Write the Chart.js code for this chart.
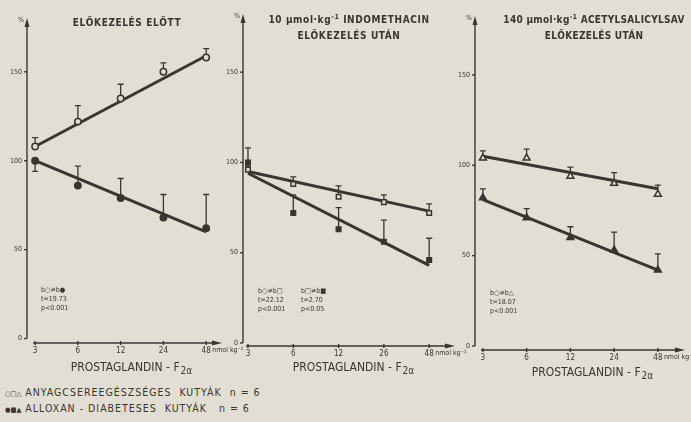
<!DOCTYPE html>
<html>
<head>
<meta charset="utf-8">
<script src="https://cdn.jsdelivr.net/npm/chart.js@4.4.0/dist/chart.umd.min.js"></script>
<style>
  body { margin: 0; background: #e2ded3; width: 691px; height: 422px; overflow: hidden; position: relative;
         font-family: 'DejaVu Sans Condensed', 'Liberation Sans Narrow', 'DejaVu Sans', sans-serif; color: #3a3531; }
  canvas { position: absolute; top: 0; }
  .title { position: absolute; font-weight: bold; font-size: 10px; text-align: center; letter-spacing: 0.6px; line-height: 16px; white-space: nowrap; }
  .title sup { font-size: 7px; vertical-align: 4px; line-height: 0; }
  .note { position: absolute; font-size: 7px; line-height: 9px; white-space: nowrap; }
  .legend { position: absolute; left: 5px; font-size: 10.5px; letter-spacing: 1px; white-space: nowrap; }
  .legend .sym { font-size: 7px; letter-spacing: 0; }
</style>
</head>
<body>
<canvas id="panel1" width="245" height="385" style="left:0px"></canvas>
<canvas id="panel2" width="255" height="385" style="left:215px"></canvas>
<canvas id="panel3" width="244" height="385" style="left:447px"></canvas>

<div class="title" style="left:57px; top:15px; width:140px">ELŐKEZELÉS ELŐTT</div>
<div class="title" style="left:264px; top:12px; width:170px">10 µmol·kg<sup>-1</sup> INDOMETHACIN<br>ELŐKEZELÉS UTÁN</div>
<div class="title" style="left:499px; top:12px; width:190px; letter-spacing:0.3px">140 µmol·kg<sup>-1</sup> ACETYLSALICYLSAV<br>ELŐKEZELÉS UTÁN</div>

<div class="note" style="left:41px; top:286px">b○≠b●<br>t=19.73<br>p&lt;0.001</div>
<div class="note" style="left:258px; top:287px">b○≠b□<br>t=22.12<br>p&lt;0.001</div>
<div class="note" style="left:301px; top:287px">b□≠b■<br>t=2.70<br>p&lt;0.05</div>
<div class="note" style="left:490px; top:289px">b○≠b△<br>t=18.07<br>p&lt;0.001</div>

<div class="legend" style="top:386px"><span class="sym">○□△</span> ANYAGCSEREEGÉSZSÉGES &nbsp;KUTYÁK &nbsp;n = 6</div>
<div class="legend" style="top:402px"><span class="sym">●■▲</span> ALLOXAN - DIABETESES &nbsp;KUTYÁK &nbsp; n = 6</div>

<script>
const INK = '#3a3531';
const BG = '#e2ded3';
const FONT = "'DejaVu Sans Condensed', 'Liberation Sans Narrow', 'DejaVu Sans', sans-serif";

// dose labels (nmol/kg, log spaced)
const doses1 = ['3', '6', '12', '24', '48'];
const doses2 = ['3', '6', '12', '26', '48'];
const doses3 = ['3', '6', '12', '24', '48'];
const yTicks = [0, 50, 100, 150];

// panel 1: before pretreatment
const normal1 = [108, 122, 135, 150, 158];
const normal1Sd = [5, 9, 8, 5, 5];
const diab1 = [100, 86, 79, 68, 62];
const diab1Sd = [-6, 11, 11, 13, 19];
const normal1Fit = [108, 159];
const diab1Fit = [100, 60];

// panel 2: after indomethacin
const normal2 = [96, 88, 81, 78, 72];
const normal2Sd = [2, 4, 6, 4, 5];
const diab2 = [100, 72, 63, 56, 46];
const diab2Sd = [8, 10, 12, 12, 12];
const normal2Fit = [95, 73];
const diab2Fit = [94, 43];

// panel 3: after acetylsalicylic acid
const normal3 = [104, 104, 94, 90, 84];
const normal3Sd = [4, 5, 5, 6, 5];
const diab3 = [82, 71, 60, 53, 42];
const diab3Sd = [5, 5, 6, 10, 9];
const normal3Fit = [105, 87];
const diab3Fit = [81, 42];

function toPoints(arr) {
    return arr.map((v, i) => ({x: i, y: v}));
}

const axesPlugin = {
    id: 'axes',
    beforeDatasetsDraw(chart) {
        const {ctx, chartArea: a, scales: {x, y}} = chart;
        const p = chart.options.panel;
        ctx.save();
        ctx.strokeStyle = INK;
        ctx.fillStyle = INK;
        ctx.lineWidth = 1.4;

        // y axis with arrow
        const y0 = y.getPixelForValue(0);
        ctx.beginPath();
        ctx.moveTo(a.left, y0);
        ctx.lineTo(a.left, a.top + 4);
        ctx.stroke();
        ctx.beginPath();
        ctx.moveTo(a.left, a.top - 4);
        ctx.lineTo(a.left - 2.5, a.top + 5);
        ctx.lineTo(a.left + 2.5, a.top + 5);
        ctx.fill();
        yTicks.forEach(v => {
            const py = y.getPixelForValue(v);
            ctx.beginPath();
            ctx.moveTo(a.left - 3, py);
            ctx.lineTo(a.left, py);
            ctx.stroke();
        });

        // x axis with arrow
        const xs = x.getPixelForValue(0) - 2;
        ctx.beginPath();
        ctx.moveTo(xs, a.bottom);
        ctx.lineTo(a.right - 8, a.bottom);
        ctx.stroke();
        ctx.beginPath();
        ctx.moveTo(a.right, a.bottom);
        ctx.lineTo(a.right - 10, a.bottom - 2.5);
        ctx.lineTo(a.right - 10, a.bottom + 2.5);
        ctx.fill();
        p.labels.forEach((l, i) => {
            const px = x.getPixelForValue(i);
            ctx.beginPath();
            ctx.moveTo(px, a.bottom - 2);
            ctx.lineTo(px, a.bottom + 2);
            ctx.stroke();
        });

        // error bars
        ctx.lineWidth = 1.3;
        chart.data.datasets.forEach((ds, di) => {
            if (!ds.sd) return;
            const meta = chart.getDatasetMeta(di);
            meta.data.forEach((pt, i) => {
                const top = y.getPixelForValue(ds.data[i].y + ds.sd[i]);
                ctx.beginPath();
                ctx.moveTo(pt.x, pt.y);
                ctx.lineTo(pt.x, top);
                ctx.moveTo(pt.x - 3, top);
                ctx.lineTo(pt.x + 3, top);
                ctx.stroke();
            });
        });
        ctx.restore();
    },
    afterDraw(chart) {
        const {ctx, chartArea: a, scales: {x}} = chart;
        const p = chart.options.panel;
        ctx.save();
        ctx.fillStyle = INK;
        // % label
        ctx.font = '7px ' + FONT;
        ctx.textAlign = 'right';
        ctx.textBaseline = 'middle';
        ctx.fillText('%', a.left - 3, a.top - 2);
        // unit after last dose
        ctx.textAlign = 'left';
        ctx.fillText('nmol kg⁻¹', x.getPixelForValue(4) + 6, a.bottom + 7);
        // axis title
        ctx.font = '12px ' + FONT;
        const main = 'PROSTAGLANDIN - F';
        const sub = '2α';
        const w1 = ctx.measureText(main).width;
        ctx.font = '10px ' + FONT;
        const w2 = ctx.measureText(sub).width;
        const sx = p.titleX - (w1 + w2) / 2;
        ctx.font = '12px ' + FONT;
        ctx.fillText(main, sx, p.titleY);
        ctx.font = '10px ' + FONT;
        ctx.fillText(sub, sx + w1 + 1, p.titleY + 3);
        ctx.restore();
    }
};

function makePanel(id, p) {
    const ctx = document.getElementById(id).getContext('2d');
    return new Chart(ctx, {
        type: 'scatter',
        data: {
            datasets: [
                {data: toPoints(p.normal), sd: p.normalSd, pointStyle: p.style, pointRadius: p.r,
                 backgroundColor: BG, borderColor: INK, borderWidth: 1.5, order: 0},
                {data: toPoints(p.diab), sd: p.diabSd, pointStyle: p.style, pointRadius: p.r,
                 backgroundColor: INK, borderColor: INK, borderWidth: 1.5, order: 0},
                {type: 'line', data: [{x: 0, y: p.normalFit[0]}, {x: 4, y: p.normalFit[1]}],
                 borderColor: INK, borderWidth: 3, pointRadius: 0, order: 1},
                {type: 'line', data: [{x: 0, y: p.diabFit[0]}, {x: 4, y: p.diabFit[1]}],
                 borderColor: INK, borderWidth: 3, pointRadius: 0, order: 1}
            ]
        },
        options: {
            panel: p,
            responsive: false,
            animation: false,
            layout: {padding: {top: p.padTop, right: p.padRight, left: 0, bottom: 0}},
            plugins: {legend: {display: false}, tooltip: {enabled: false}},
            scales: {
                x: {
                    type: 'linear', min: p.xMin, max: p.xMax,
                    grid: {display: false, drawTicks: false}, border: {display: false},
                    afterBuildTicks: s => { s.ticks = p.labels.map((l, i) => ({value: i})); },
                    afterFit: s => { s.height = p.xAxisH; },
                    ticks: {callback: v => p.labels[v], font: {size: 8, family: FONT}, color: INK,
                            padding: 3, maxRotation: 0, autoSkip: false}
                },
                y: {
                    min: p.yMin, max: p.yMax,
                    grid: {display: false, drawTicks: false}, border: {display: false},
                    afterBuildTicks: s => { s.ticks = yTicks.map(v => ({value: v})); },
                    afterFit: s => { s.width = p.yAxisW; },
                    ticks: {font: {size: 7, family: FONT}, color: INK, padding: 5}
                }
            }
        },
        plugins: [axesPlugin]
    });
}

makePanel('panel1', {
    labels: doses1, normal: normal1, normalSd: normal1Sd, diab: diab1, diabSd: diab1Sd,
    normalFit: normal1Fit, diabFit: diab1Fit, style: 'circle', r: 3.2,
    xMin: -0.19, xMax: 4.37, yMin: -2.5, yMax: 178,
    padTop: 22, padRight: 23, yAxisW: 27, xAxisH: 42, titleX: 131, titleY: 368
});
makePanel('panel2', {
    labels: doses2, normal: normal2, normalSd: normal2Sd, diab: diab2, diabSd: diab2Sd,
    normalFit: normal2Fit, diabFit: diab2Fit, style: 'rect', r: 3.2,
    xMin: -0.11, xMax: 4.57, yMin: -1.7, yMax: 180,
    padTop: 18, padRight: 15, yAxisW: 28, xAxisH: 39, titleX: 138, titleY: 368
});
makePanel('panel3', {
    labels: doses3, normal: normal3, normalSd: normal3Sd, diab: diab3, diabSd: diab3Sd,
    normalFit: normal3Fit, diabFit: diab3Fit, style: 'triangle', r: 4,
    xMin: -0.18, xMax: 4.62, yMin: -2.2, yMax: 180.4,
    padTop: 20, padRight: 6, yAxisW: 28, xAxisH: 35, titleX: 145, titleY: 373
});
</script>
</body>
</html>
